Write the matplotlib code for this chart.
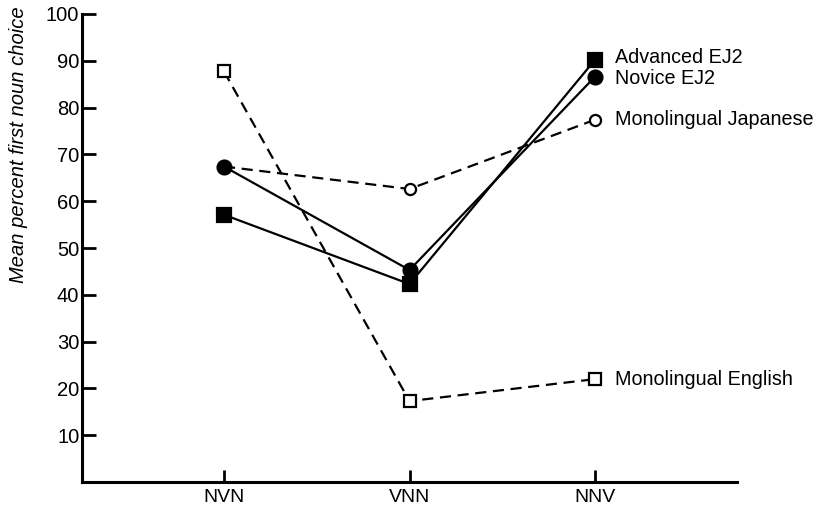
import matplotlib.pyplot as plt

plt.rcParams["font.family"] = ["Liberation Sans", "DejaVu Sans"]

conditions = ["NVN", "VNN", "NNV"]
advanced_ej2 = [57.1, 42.3, 90.2]
novice_ej2 = [67.4, 45.3, 86.6]
mono_japanese = [67.4, 62.6, 77.4]
mono_english = [87.7, 17.3, 22.0]

# drawn back to front so the filled markers sit on top
series = [
    ("Monolingual English", mono_english, "--", "s", "white", 8, 0),
    ("Monolingual Japanese", mono_japanese, "--", "o", "white", 8, 0),
    ("Novice EJ2", novice_ej2, "-", "o", "black", 10, -1.5),
    ("Advanced EJ2", advanced_ej2, "-", "s", "black", 9.5, 1.5),
]

fig = plt.figure(figsize=(8.29, 5.14), dpi=100)
ax = fig.add_axes([0.099, 0.062, 0.79, 0.911])
x = [1, 2, 3]

for name, vals, ls, mk, fc, ms, dy in series:
    line, = ax.plot(x, vals, color="black", linestyle=ls, linewidth=1.6,
                    marker=mk, markersize=ms, markerfacecolor=fc,
                    markeredgecolor="black", markeredgewidth=1.6)
    if ls == "--":
        line.set_dashes([5, 3])
    ax.annotate(name, (x[-1], vals[-1]), xytext=(14.5, dy), textcoords="offset points",
                va="center", ha="left", fontsize=14.2)

ax.set_xlim(0.235, 3.765)
ax.set_ylim(0, 100)
ax.set_xticks(x)
ax.set_xticklabels(conditions, fontsize=14)
ax.set_yticks(range(10, 101, 10))
ax.tick_params(axis="y", direction="in", length=10, width=2, labelsize=14.5, pad=2)
ax.tick_params(axis="x", direction="in", length=9, width=2, labelsize=14, pad=5)
ax.spines["top"].set_visible(False)
ax.spines["right"].set_visible(False)
ax.spines["left"].set_linewidth(2.2)
ax.spines["bottom"].set_linewidth(2.2)
ax.set_ylabel("Mean percent first noun choice", fontsize=14.5, style="italic")
ax.yaxis.set_label_coords(-0.082, 0.72)

fig.savefig("out.png", dpi=100)
